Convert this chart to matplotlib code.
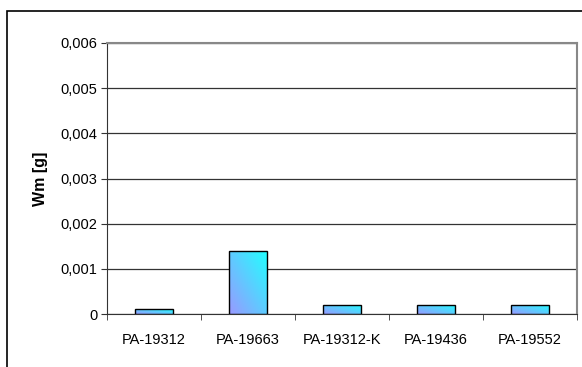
import numpy as np
import matplotlib.pyplot as plt
from matplotlib.colors import LinearSegmentedColormap
from matplotlib.patches import Rectangle

plt.rcParams['font.family'] = ['Liberation Sans', 'DejaVu Sans']

samples = ['PA-19312', 'PA-19663', 'PA-19312-K', 'PA-19436', 'PA-19552']
wm = [0.0001, 0.0014, 0.0002, 0.0002, 0.0002]
yticks = [0, 0.001, 0.002, 0.003, 0.004, 0.005, 0.006]
ytick_labels = ['0', '0,001', '0,002', '0,003', '0,004', '0,005', '0,006']

W, H = 582, 367
fig = plt.figure(figsize=(W / 100, H / 100), dpi=100)
ax = fig.add_axes([107 / W, 1 - 314 / H, (577 - 107) / W, (314 - 43) / H])

# outer chart frame (only top and left edges fall inside the image)
fig.patches.append(Rectangle((7 / W, -0.1), 1.2, 1 - 11 / H + 0.1,
                             transform=fig.transFigure, fill=False,
                             edgecolor='black', linewidth=1.2))

x = np.arange(len(samples))
bars = ax.bar(x, wm, width=0.4, color='none', edgecolor='black', linewidth=1.0, zorder=3)

# diagonal gradient fill, violet bottom-left to cyan top-right
cmap = LinearSegmentedColormap.from_list('grad', ['#9999ff', '#22ffff'])
gx, gy = np.meshgrid(np.linspace(0, 1, 60), np.linspace(0, 1, 60))
grad = (gx + gy) / 2
for b in bars:
    x0, y0 = b.get_x(), b.get_y()
    im = ax.imshow(grad, cmap=cmap, origin='lower', aspect='auto',
                   extent=[x0, x0 + b.get_width(), y0, y0 + b.get_height()], zorder=2)
    im.set_clip_path(b)

ax.set_xlim(-0.5, len(samples) - 0.5)
ax.set_ylim(0, 0.006)
ax.set_yticks(yticks)
ax.set_yticklabels(ytick_labels, fontsize=10.5)
ax.set_xticks(x)
ax.set_xticklabels(samples, fontsize=10.5)
ax.tick_params(axis='x', length=0, pad=14)
ax.set_xticks(np.arange(-0.5, len(samples)), minor=True)
ax.tick_params(axis='x', which='minor', length=4, color='#333333')
ax.tick_params(axis='y', length=4, color='#333333', pad=3)

ax.grid(axis='y', color='#333333', linewidth=0.9, zorder=0)
ax.set_axisbelow(True)

ax.spines['left'].set_color('#333333')
ax.spines['bottom'].set_color('#333333')
ax.spines['top'].set_color('#888888')
ax.spines['right'].set_color('#888888')
ax.spines['top'].set_linewidth(1.5)
ax.spines['right'].set_linewidth(1.5)

ax.set_ylabel('Wm [g]', fontsize=11.5, fontweight='bold', labelpad=9)

fig.savefig('out.png', dpi=100)
